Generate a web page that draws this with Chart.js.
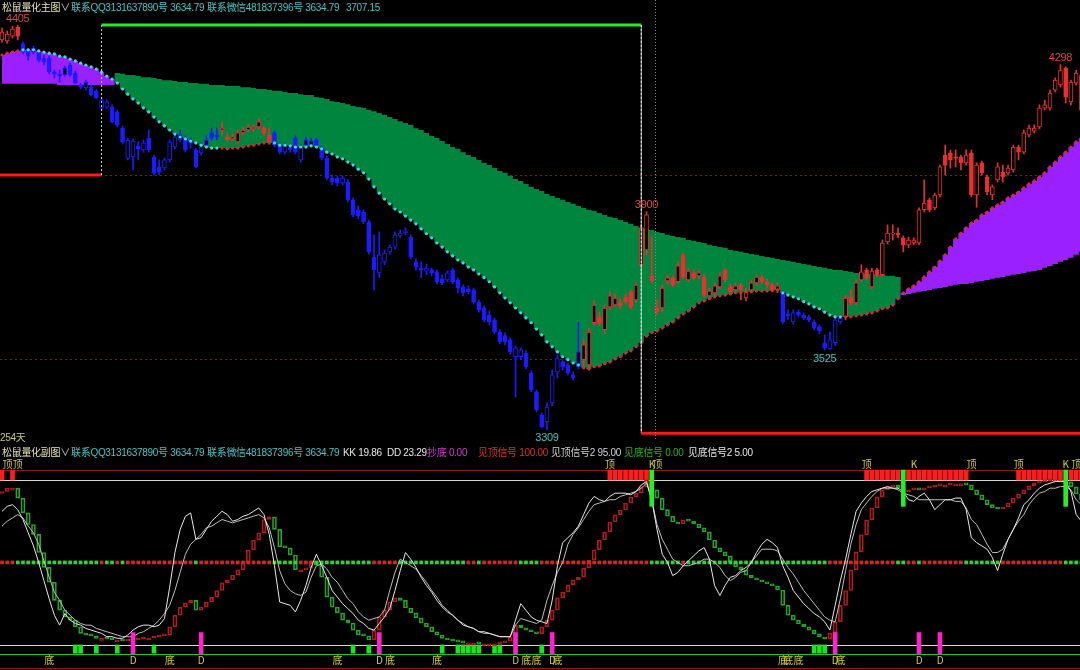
<!DOCTYPE html>
<html>
<head>
<meta charset="utf-8">
<script src="https://cdn.jsdelivr.net/npm/chart.js@4.4.1/dist/chart.umd.min.js"></script>
<style>
    html, body { margin: 0; padding: 0; background: #000; }
    #wrap { position: relative; width: 1080px; height: 670px; overflow: hidden; background: #000;
        font-family: "Liberation Sans", "Noto Sans CJK SC", sans-serif; font-size: 10px; letter-spacing: -0.3px; }
    #mainChart { position: absolute; left: 0; top: 0; }
    #subChart { position: absolute; left: 0; top: 458px; }
    .txt { position: absolute; white-space: nowrap; line-height: 14px; }
</style>
</head>
<body>
<div id="wrap">
    <canvas id="mainChart" width="1080" height="445"></canvas>
    <canvas id="subChart" width="1080" height="212"></canvas>

    <div class="txt" style="left:2px;top:1px;color:#e2e2b4">松鼠量化主图<span style="color:#cfcfcf">∨</span></div>
    <div class="txt" style="left:71px;top:1px;color:#46c4c4">联系QQ3131637890号 3634.79</div>
    <div class="txt" style="left:207px;top:1px;color:#46c4c4">联系微信481837396号 3634.79</div>
    <div class="txt" style="left:346px;top:1px;color:#46c4c4">3707.15</div>

    <div class="txt" style="left:0px;top:431px;color:#c8c864">254天</div>

    <div class="txt" style="left:2px;top:446px;color:#e2e2b4">松鼠量化副图<span style="color:#cfcfcf">∨</span></div>
    <div class="txt" style="left:71px;top:446px;color:#46c4c4">联系QQ3131637890号 3634.79</div>
    <div class="txt" style="left:207px;top:446px;color:#46c4c4">联系微信481837396号 3634.79</div>
    <div class="txt" style="left:343px;top:446px;color:#e6e6e6">KK 19.86</div>
    <div class="txt" style="left:387px;top:446px;color:#e6e6e6">DD 23.29</div>
    <div class="txt" style="left:427px;top:446px;color:#d23cd2">抄底 0.00</div>
    <div class="txt" style="left:478px;top:446px;color:#d83232">见顶信号 100.00</div>
    <div class="txt" style="left:551px;top:446px;color:#cfcfcf">见顶信号2 95.00</div>
    <div class="txt" style="left:624px;top:446px;color:#22b422">见底信号 0.00</div>
    <div class="txt" style="left:688px;top:446px;color:#e6e6e6">见底信号2 5.00</div>
</div>

<script>
// ---- main panel data (one entry per trading day) ----
const opens = [
    4365,4362,4375,4400,4354,4338,4332,4332,4316,4316,
    4278,4273,4270,4297,4275,4243,4235,4237,4227,4180,
    4183,4183,4170,4126,4045,4048,4078,4067,4099,4048,
    4021,4018,4040,4075,4094,4099,4091,4067,4059,4080,
    4113,4107,4121,4102,4097,4089,4113,4121,4124,4129,
    4126,4107,4113,4080,4061,4075,4099,4040,4080,4080,
    4094,4072,4045,3991,3991,3978,3980,3932,3905,3899,
    3872,3777,3734,3764,3791,3804,3834,3842,3831,3764,
    3747,3739,3742,3737,3718,3715,3742,3715,3696,3691,
    3688,3655,3639,3620,3607,3574,3564,3553,3507,3507,
    3517,3463,3412,3350,3331,3382,3466,3493,3485,3458,
    3480,3499,3485,3599,3615,3580,3642,3647,3653,3669,
    3683,3661,3756,3796,3726,3639,3639,3712,3721,3710,
    3783,3715,3734,3726,3723,3672,3680,3696,3742,3696,
    3688,3701,3666,3688,3707,3723,3710,3702,3688,3680,
    3623,3601,3628,3620,3615,3601,3588,3545,3528,3545,
    3601,3615,3669,3653,3715,3742,3696,3742,3729,3818,
    3839,3842,3829,3810,3815,3815,3905,3932,3910,3945,
    4053,4059,4048,4048,4032,4059,3945,4032,3994,3945,
    3986,4007,4005,4013,4075,4061,4107,4118,4129,4180,
    4180,4229,4243,4289,4197,4248,4270
];
const highs = [
    4397,4389,4402,4405,4359,4343,4348,4338,4324,4321,
    4283,4283,4294,4302,4281,4248,4256,4243,4232,4208,
    4202,4189,4175,4132,4099,4097,4089,4094,4121,4053,
    4040,4045,4094,4113,4121,4105,4099,4072,4086,4105,
    4126,4126,4143,4113,4110,4121,4129,4137,4135,4153,
    4132,4126,4118,4086,4086,4083,4105,4080,4102,4099,
    4099,4078,4051,3999,3996,3996,3986,3937,3915,3905,
    3877,3837,3845,3796,3810,3845,3850,3856,3837,3772,
    3764,3758,3747,3742,3729,3739,3747,3721,3702,3699,
    3693,3661,3645,3631,3612,3580,3572,3558,3536,3531,
    3523,3469,3417,3355,3382,3471,3512,3499,3490,3466,
    3601,3553,3585,3661,3628,3647,3683,3677,3664,3677,
    3688,3707,3864,3900,3831,3661,3702,3729,3726,3764,
    3788,3747,3742,3742,3729,3693,3707,3734,3747,3704,
    3707,3707,3691,3715,3729,3729,3718,3707,3707,3685,
    3634,3634,3634,3626,3620,3607,3593,3566,3574,3612,
    3620,3674,3688,3715,3756,3747,3747,3747,3823,3864,
    3864,3856,3834,3831,3829,3910,3986,3937,3950,4026,
    4080,4067,4067,4053,4067,4067,4032,4037,3999,3972,
    4032,4026,4026,4080,4080,4121,4135,4135,4189,4202,
    4229,4262,4298,4292,4256,4283,4278
];
const lows = [
    4359,4356,4370,4365,4327,4310,4327,4305,4297,4273,
    4262,4251,4267,4267,4246,4232,4229,4213,4205,4175,
    4180,4140,4129,4083,4040,4013,4040,4061,4061,3999,
    3999,4013,4034,4070,4089,4061,4072,4018,4053,4075,
    4094,4094,4107,4089,4091,4083,4107,4116,4116,4124,
    4107,4083,4075,4056,4056,4061,4056,4034,4075,4075,
    4075,4040,3986,3972,3969,3972,3926,3886,3880,3867,
    3785,3688,3721,3756,3785,3799,3829,3837,3772,3742,
    3721,3729,3726,3704,3702,3710,3704,3680,3672,3677,
    3650,3628,3601,3593,3569,3542,3539,3515,3398,3499,
    3474,3412,3358,3315,3309,3374,3450,3471,3458,3444,
    3474,3480,3477,3591,3591,3569,3637,3642,3637,3650,
    3637,3655,3750,3783,3707,3620,3628,3704,3696,3704,
    3718,3710,3715,3718,3669,3664,3672,3691,3710,3677,
    3683,3661,3658,3683,3699,3704,3693,3683,3680,3596,
    3609,3596,3615,3607,3601,3580,3569,3525,3527,3537,
    3596,3607,3647,3647,3710,3715,3691,3723,3723,3812,
    3823,3829,3791,3802,3810,3810,3899,3899,3905,3940,
    3999,4018,4021,4013,4026,3940,3912,3999,3945,3932,
    3980,3980,3999,4007,4040,4056,4102,4113,4124,4175,
    4175,4224,4237,4194,4189,4243,4170
];
const closes = [
    4386,4381,4394,4375,4332,4321,4343,4310,4305,4278,
    4273,4267,4289,4270,4248,4237,4251,4216,4208,4202,
    4197,4143,4135,4088,4094,4091,4070,4086,4067,4005,
    4007,4040,4089,4102,4107,4067,4086,4021,4075,4094,
    4099,4102,4126,4094,4102,4113,4121,4129,4129,4143,
    4113,4089,4080,4061,4078,4067,4061,4075,4094,4091,
    4080,4045,3991,3980,3978,3991,3932,3891,3888,3872,
    3791,3742,3783,3788,3804,3837,3842,3848,3777,3750,
    3742,3747,3734,3710,3707,3734,3710,3693,3680,3683,
    3655,3634,3607,3601,3574,3547,3547,3520,3531,3526,
    3480,3417,3363,3317,3371,3458,3504,3480,3463,3450,
    3520,3539,3574,3647,3599,3639,3672,3666,3645,3656,
    3642,3701,3856,3891,3712,3628,3693,3721,3702,3753,
    3723,3739,3721,3734,3674,3685,3699,3726,3715,3683,
    3699,3688,3685,3707,3723,3710,3702,3688,3699,3601,
    3618,3626,3620,3612,3607,3585,3577,3530,3553,3607,
    3612,3666,3653,3707,3737,3721,3739,3729,3815,3842,
    3842,3837,3810,3823,3823,3905,3923,3905,3945,4021,
    4026,4040,4045,4032,4053,3945,4026,4005,3953,3967,
    4021,3994,4018,4075,4061,4113,4126,4126,4180,4189,
    4221,4256,4283,4210,4251,4275,4175
];
// dotted trailing line
const fastLine = [
    4324,4329,4332,4335,4338,4338,4338,4335,4332,4329,
    4327,4321,4319,4313,4308,4302,4297,4292,4286,4278,
    4267,4259,4248,4232,4218,4205,4194,4181,4170,4156,
    4143,4132,4121,4110,4102,4097,4091,4086,4080,4075,
    4072,4072,4072,4070,4072,4072,4075,4078,4080,4083,
    4086,4086,4086,4080,4080,4078,4075,4075,4075,4078,
    4075,4070,4061,4056,4048,4043,4034,4026,4015,4005,
    3988,3967,3950,3934,3921,3907,3899,3888,3877,3867,
    3853,3840,3829,3815,3804,3791,3780,3769,3761,3750,
    3742,3731,3721,3710,3696,3680,3666,3653,3639,3626,
    3612,3599,3582,3566,3547,3534,3520,3507,3499,3490,
    3485,3477,3474,3480,3482,3488,3493,3501,3507,3517,
    3523,3534,3545,3563,3572,3577,3585,3593,3601,3612,
    3623,3631,3642,3653,3658,3664,3669,3672,3674,3677,
    3680,3680,3683,3683,3685,3685,3685,3686,3688,3680,
    3674,3669,3664,3656,3650,3642,3637,3628,3620,3615,
    3615,3615,3615,3618,3620,3623,3626,3631,3637,3639,
    3647,3664,3680,3691,3699,3710,3723,3737,3750,3766,
    3783,3804,3826,3842,3856,3869,3877,3891,3899,3910,
    3918,3926,3937,3945,3953,3964,3975,3983,3994,4005,
    4021,4034,4048,4061,4075,4089,4099
];
// slow band edge
const slowLine = [
    4246,4246,4246,4246,4246,4246,4246,4246,4246,4246,
    4246,4243,4243,4243,4243,4243,4243,4243,4243,4243,
    4243,4243,4275,4273,4270,4270,4267,4264,4264,4262,
    4259,4256,4256,4254,4251,4251,4248,4248,4246,4246,
    4243,4243,4243,4240,4240,4240,4237,4237,4235,4232,
    4232,4229,4227,4227,4224,4221,4221,4218,4216,4216,
    4210,4208,4205,4199,4197,4194,4191,4186,4183,4181,
    4175,4172,4167,4162,4156,4151,4145,4140,4135,4126,
    4121,4113,4105,4099,4091,4083,4075,4070,4061,4053,
    4048,4040,4032,4026,4018,4010,4005,3997,3988,3983,
    3975,3967,3961,3956,3948,3942,3937,3932,3926,3921,
    3915,3910,3905,3902,3896,3891,3886,3883,3877,3872,
    3867,3861,3856,3853,3850,3845,3842,3837,3834,3831,
    3829,3823,3821,3818,3815,3810,3807,3804,3802,3796,
    3794,3791,3788,3785,3783,3780,3777,3775,3772,3769,
    3767,3764,3761,3758,3756,3753,3750,3748,3745,3742,
    3742,3739,3737,3734,3734,3731,3731,3729,3729,3726,
    3726,3723,3674,3677,3680,3683,3685,3688,3691,3693,
    3696,3699,3702,3704,3704,3707,3710,3712,3715,3718,
    3721,3723,3726,3729,3731,3734,3737,3739,3742,3748,
    3753,3758,3764,3769,3775,3783,3791
];
const downRanges = [[4, 41], [52, 110], [149, 160]];
const boxBars = [-1, 19, 122, 207];
const boxLevels = [3999, 4405, 3300];
const gridLevels = [3500, 4000];
const cursorBar = 125;
const highMarks = [3, 123, 202];
const lowMarks = [104, 157];

// ---- sub panel data ----
const oscBars = [
    93,95,95,89,80,73,67,56,47,38,
    27,21,17,15,11,7,6,5.5,4,4,
    3.6,3,3,2.4,3,3,3.6,4.2,4.2,4.8,
    5.5,6,11,18,23,25.5,27,21,23,26,
    29,33,37.6,39.4,42.4,45.5,49.7,57.6,63.6,68,
    76,77.6,70,59.4,58.8,54.5,45.5,45.5,46.7,50.3,
    48.5,41,29,23,19.4,15,13.3,9,6,5.5,
    3,9,17,21,26,28.5,27,22.4,19.4,16.4,
    13.3,11,8,6,4,3,2.4,1.8,1.2,1.2,
    1.2,0.6,0.6,0.6,0.6,1.2,2.4,4.8,12,10.3,
    9,8,6.7,11,15,21,28.5,32,36.4,39.4,
    41,46.7,51.5,57.6,63.6,68.5,74.5,78.8,81.8,86,
    89.7,92,95.8,100,94,89,82,78,74.5,73.3,
    75.8,75,73.3,71,68.5,63.6,58.8,56.4,54,50.3,
    47.3,45.5,42.4,40.6,39.4,38.2,37,35.8,33.3,24,
    18,15,12.7,11,9,6.7,4.8,3.6,7.3,14,
    24,33,45.5,56.4,66.7,75.8,83,89.7,94,95.8,
    97,95.2,92.7,94,94.5,94,95.2,95.8,96.4,97,
    97,97.6,97.6,97.6,97,94,91,88,85,83,
    82.4,83.6,86,89,91.5,94,96.4,98.2,98.8,99.4,
    100,100,100,98.8,95.8,91.5,88
];
const kLine = [
    81,84,85,82,76,68,60,50,39,28,
    18,12,19,15,13,12,10,9,8,7,
    5,5,4,4,6,9,11,12,12,11,
    12,16,35,56,70,78,80,64,65,70,
    75,78,81,79,75,76,78,79,81,83,
    79,67,48,26,25,24,20,27,36,47,
    55,48,41,33,29,25,22,19,15,13,
    10,9,13,17,22,33,45,56,52,47,
    41,36,32,27,23,20,18,15,12,11,
    10,8,8,7,6,5,5,5,15,25,
    21,17,15,14,13,27,48,62,65,68,
    72,79,86,90,88,87,90,92,92,92,
    91,93,97,99,88,70,55,50,42,44,
    48,51,54,57,59,52,36,30,36,41,
    42,45,47,50,56,61,64,62,59,48,
    41,33,29,25,22,19,17,14,9,24,
    39,52,67,81,86,90,93,94,95,96,
    95,95,93,88,87,90,92,88,82,85,
    88,88,89,89,82,65,62,60,58,53,
    45,55,64,70,77,85,88,92,95,97,
    98,99,99,99,93,79,75
];
const dLine = [
    72,75,77,79,77,72,68,61,51,41,
    32,27,21,18,15,13,12,12,10,9,
    8,7,6,5,5,5,7,8,10,12,
    15,19,24,33,44,55,61,64,67,71,
    72,74,76,75,74,75,76,77,78,79,
    77,71,59,45,37,33,31,30,32,41,
    48,49,46,41,38,33,28,25,20,17,
    15,16,17,21,33,44,52,50,48,46,
    42,38,33,29,24,21,18,15,13,11,
    10,8,7,7,6,5,5,5,12,16,
    15,14,13,15,27,36,44,50,61,67,
    71,76,81,85,86,87,88,88,90,91,
    92,93,95,98,88,73,64,58,52,50,
    48,48,49,50,52,52,50,47,42,39,
    41,44,45,50,54,58,58,58,57,52,
    47,43,38,33,29,25,21,17,15,14,
    28,45,61,73,82,86,90,93,95,95,
    95,94,92,91,90,88,88,88,88,88,
    88,88,87,87,83,76,73,67,61,56,
    56,58,64,70,75,79,85,89,92,93,
    95,95,96,96,94,88,85
];
const midLevel = 50;
const topWarnBars = [0,2,116,117,118,119,120,121,122,123,165,166,167,168,169,170,171,
    173,174,175,176,177,178,179,180,181,182,183,184,194,195,196,197,198,199,200,201,202,204,205,206];
const topKBars = [124, 172, 203];
const bottomBars = [14,15,18,22,29,67,70,84,87,88,89,90,91,94,95,103,155,156,157];
const dipBars = [25,38,72,98,105,159,175,179];
const dingLabelBars = [1,3,116,125,165,185,194,205];
const kLabelBars = [124,174,203];
const diLabelBars = [9,32,64,74,83,100,102,106,149,150,152,160];
const dLabelBars = [25,38,72,98,105,159,175,179];

const X_MIN = -0.382;
const X_MAX = 205.73;

function isDown(i) {
    return downRanges.some(([a, b]) => i >= a && i <= b);
}

function toPoints(values) {
    return values.map((v, i) => ({ x: i, y: v }));
}

function hiddenX() {
    return { type: "linear", min: X_MIN, max: X_MAX, offset: false, display: false };
}

const baseOptions = {
    responsive: false,
    animation: false,
    events: [],
    layout: { padding: 0, autoPadding: false },
    plugins: { legend: { display: false }, tooltip: { enabled: false } },
};

// dashed grid, cursor and extreme labels of the main panel
const mainDecor = {
    id: "mainDecor",
    beforeDatasetsDraw(chart) {
        const { ctx, chartArea, scales } = chart;
        ctx.save();
        ctx.strokeStyle = "#7c1c1c";
        ctx.lineWidth = 1;
        ctx.setLineDash([2, 3]);
        for (const level of gridLevels) {
            const y = Math.round(scales.y.getPixelForValue(level)) + 0.5;
            ctx.beginPath();
            ctx.moveTo(chartArea.left, y);
            ctx.lineTo(chartArea.right, y);
            ctx.stroke();
        }
        ctx.restore();
    },
    afterDatasetsDraw(chart) {
        const { ctx, chartArea, scales } = chart;
        ctx.save();
        const cx = Math.round(scales.x.getPixelForValue(cursorBar)) - 1.5;
        ctx.strokeStyle = "#8a8a8a";
        ctx.setLineDash([1, 2]);
        ctx.beginPath();
        ctx.moveTo(cx, chartArea.top);
        ctx.lineTo(cx, chartArea.bottom - 4);
        ctx.stroke();

        ctx.font = '11px "Liberation Sans", sans-serif';
        ctx.textAlign = "center";
        ctx.fillStyle = "#dc4646";
        ctx.textBaseline = "bottom";
        for (const i of highMarks) {
            ctx.fillText(String(highs[i]), scales.x.getPixelForValue(i), scales.y.getPixelForValue(highs[i]) - 1);
        }
        ctx.fillStyle = "#3cc4c4";
        ctx.textBaseline = "top";
        for (const i of lowMarks) {
            ctx.fillText(String(lows[i]), scales.x.getPixelForValue(i), scales.y.getPixelForValue(lows[i]) + 3);
        }
        ctx.restore();
    },
};

function candleColor(i) {
    return isDown(i) ? "#1c1cff" : "#e83030";
}

function buildBoxPoints() {
    const points = [];
    for (let k = 0; k < boxLevels.length; k++) {
        points.push({ x: boxBars[k], y: boxLevels[k] });
        points.push({ x: boxBars[k + 1], y: boxLevels[k] });
    }
    return points;
}

const boxTop = Math.max(...boxLevels);

new Chart(document.getElementById("mainChart"), {
    type: "bar",
    data: {
        datasets: [
            {
                type: "line",
                data: toPoints(slowLine),
                borderColor: "rgba(0,0,0,0)",
                pointRadius: 0,
                stepped: "middle",
                fill: { target: 1, above: "#00853f", below: "#9b20ff" },
                order: 10,
            },
            {
                type: "line",
                data: toPoints(fastLine),
                showLine: false,
                stepped: "middle",
                pointStyle: "circle",
                pointRadius: 1.6,
                pointBorderWidth: 0,
                pointBackgroundColor: (c) => (isDown(c.dataIndex) ? "#3cdcdc" : "#e02828"),
                order: 2,
            },
            {
                data: lows.map((l, i) => ({ x: i, y: [l, highs[i]] })),
                grouped: false,
                barThickness: 1,
                backgroundColor: (c) => candleColor(c.dataIndex),
                order: 5,
            },
            {
                data: opens.map((o, i) => ({ x: i, y: [o, closes[i]] })),
                grouped: false,
                barThickness: 4,
                minBarLength: 1,
                borderWidth: 1,
                borderSkipped: false,
                borderColor: (c) => candleColor(c.dataIndex),
                backgroundColor: (c) => (closes[c.dataIndex] > opens[c.dataIndex] ? "#000" : candleColor(c.dataIndex)),
                order: 4,
            },
            {
                type: "line",
                data: buildBoxPoints(),
                pointRadius: 0,
                borderWidth: 3,
                borderColor: "#ff1a1a",
                segment: {
                    borderColor: (c) => (c.p0.parsed.x === c.p1.parsed.x ? "#d8d8d8"
                        : (c.p0.parsed.y === boxTop ? "#22ee22" : "#ff1a1a")),
                    borderWidth: (c) => (c.p0.parsed.x === c.p1.parsed.x ? 1 : 3),
                    borderDash: (c) => (c.p0.parsed.x === c.p1.parsed.x ? [2, 2] : undefined),
                },
                order: 1,
            },
        ],
    },
    options: {
        ...baseOptions,
        scales: {
            x: hiddenX(),
            y: { type: "linear", min: 3268, max: 4473, display: false, beginAtZero: false },
        },
    },
    plugins: [mainDecor],
});

// ---- sub panel ----
const subDecor = {
    id: "subDecor",
    beforeDatasetsDraw(chart) {
        const { ctx, chartArea, scales } = chart;
        const lines = [
            { v: 106, color: "#8c1c1c" },
            { v: 100, color: "#d6d6d6" },
            { v: 0, color: "#d6d6d6" },
            { v: -5.5, color: "#1ec81e" },
            { v: -14, color: "#8c1c1c" },
        ];
        ctx.save();
        ctx.lineWidth = 1;
        for (const line of lines) {
            const y = Math.round(scales.y.getPixelForValue(line.v)) + 0.5;
            ctx.strokeStyle = line.color;
            ctx.beginPath();
            ctx.moveTo(chartArea.left, y);
            ctx.lineTo(chartArea.right, y);
            ctx.stroke();
        }
        ctx.restore();
    },
    afterDatasetsDraw(chart) {
        const { ctx, scales } = chart;
        const groups = [
            { bars: dingLabelBars, text: "顶", v: 109.3 },
            { bars: kLabelBars, text: "K", v: 109.3 },
            { bars: diLabelBars, text: "底", v: -9.2 },
            { bars: dLabelBars, text: "D", v: -9.2 },
        ];
        ctx.save();
        ctx.font = '10px "Noto Sans CJK SC", sans-serif';
        ctx.textAlign = "center";
        ctx.textBaseline = "middle";
        ctx.fillStyle = "#d6c832";
        for (const g of groups) {
            for (const i of g.bars) {
                ctx.fillText(g.text, scales.x.getPixelForValue(i), scales.y.getPixelForValue(g.v));
            }
        }
        ctx.restore();
    },
};

function oscRising(i) {
    return i === 0 || oscBars[i] >= oscBars[i - 1];
}

new Chart(document.getElementById("subChart"), {
    type: "bar",
    data: {
        datasets: [
            {
                data: oscBars.map((v, i) => ({ x: i, y: [i > 0 ? oscBars[i - 1] : v, v] })),
                grouped: false,
                barThickness: 4,
                minBarLength: 2,
                borderWidth: 1,
                borderSkipped: false,
                backgroundColor: "rgba(0,0,0,0)",
                borderColor: (c) => (oscRising(c.dataIndex) ? "#b41c1c" : "#22a822"),
                order: 5,
            },
            {
                type: "line",
                data: toPoints(kLine),
                borderColor: "#e8e8e8",
                borderWidth: 1,
                pointRadius: 0,
                order: 2,
            },
            {
                type: "line",
                data: toPoints(dLine),
                borderColor: "#bdbdbd",
                borderWidth: 1,
                pointRadius: 0,
                order: 3,
            },
            {
                type: "line",
                data: oscBars.map((v, i) => ({ x: i, y: midLevel })),
                showLine: false,
                pointStyle: "rect",
                pointRadius: 2.6,
                pointBorderWidth: 0,
                pointBackgroundColor: (c) => (oscRising(c.dataIndex) ? "#e61e1e" : "#22dd22"),
                order: 4,
            },
            {
                data: topWarnBars.map((i) => ({ x: i, y: [100, 106] })),
                grouped: false,
                barThickness: 4,
                backgroundColor: "#ff1c1c",
                order: 6,
            },
            {
                data: topKBars.map((i) => ({ x: i, y: [84, 106] })),
                grouped: false,
                barThickness: 4,
                backgroundColor: "#26ee26",
                order: 1,
            },
            {
                data: bottomBars.map((i) => ({ x: i, y: [-5, 0] })),
                grouped: false,
                barThickness: 4,
                backgroundColor: "#22e022",
                order: 6,
            },
            {
                data: dipBars.map((i) => ({ x: i, y: [-5.5, 7.5] })),
                grouped: false,
                barThickness: 4,
                backgroundColor: "#ff22cc",
                order: 1,
            },
        ],
    },
    options: {
        ...baseOptions,
        scales: {
            x: hiddenX(),
            y: { type: "linear", min: -15.2, max: 113.3, display: false, beginAtZero: false },
        },
    },
    plugins: [subDecor],
});
</script>
</body>
</html>
